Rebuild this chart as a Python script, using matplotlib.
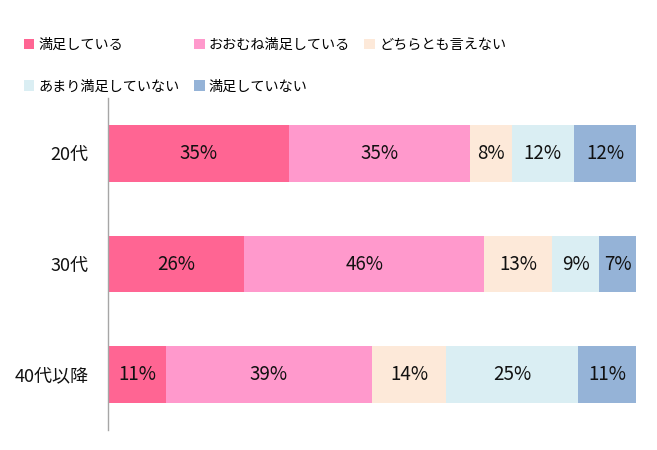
import matplotlib
matplotlib.use("Agg")
import matplotlib.pyplot as plt
import numpy as np

plt.rcParams['font.family'] = ['Noto Sans CJK JP', 'DejaVu Sans']

categories = ["20代", "30代", "40代以降"]
series_names = ["満足している", "おおむね満足している", "どちらとも言えない",
                "あまり満足していない", "満足していない"]
# percentages per category, in series order
values = [
    [35, 35, 8, 12, 12],
    [26, 46, 13, 9, 7],
    [11, 39, 14, 25, 11],
]
colors = ["#FF6593", "#FF99CC", "#FDE9D9", "#DAEEF3", "#95B3D7"]

fig = plt.figure(figsize=(6.57, 4.5), dpi=100)
ax = fig.add_axes([108 / 657, 1 - 430 / 450, 528 / 657, 332 / 450])

data = np.array(values, dtype=float)
share = data / data.sum(axis=1, keepdims=True) * 100
y = np.arange(len(categories))
left = np.zeros(len(categories))

for j, name in enumerate(series_names):
    bars = ax.barh(y, share[:, j], left=left, height=0.51, color=colors[j],
                   label=name, linewidth=0)
    for i, b in enumerate(bars):
        ax.text(left[i] + share[i, j] / 2, y[i], "{}%".format(values[i][j]),
                ha="center", va="center", fontsize=13.5, color="#111111")
    left += share[:, j]

ax.set_xlim(0, 100)
ax.set_ylim(len(categories) - 0.5, -0.5)
ax.set_yticks(y)
ax.set_yticklabels(categories, fontsize=13, color="#111111")
ax.tick_params(axis="y", length=0, pad=14)
ax.set_xticks([])
for s in ["top", "right", "bottom"]:
    ax.spines[s].set_visible(False)
ax.spines["left"].set_color("#A6A6A6")
ax.spines["left"].set_linewidth(1.0)

# legend is filled column by column, so reorder to read row by row
handles, labels = ax.get_legend_handles_labels()
order = [0, 3, 1, 4, 2]
fig.legend([handles[k] for k in order], [labels[k] for k in order],
           ncol=3, loc="upper left",
           bbox_to_anchor=(11 / 657, 1 - 25 / 450), frameon=False,
           fontsize=10.2, handlelength=0.75, handleheight=0.75,
           handletextpad=0.3, columnspacing=1.0, labelspacing=1.95)

fig.savefig("out.png", dpi=100, facecolor="white")
